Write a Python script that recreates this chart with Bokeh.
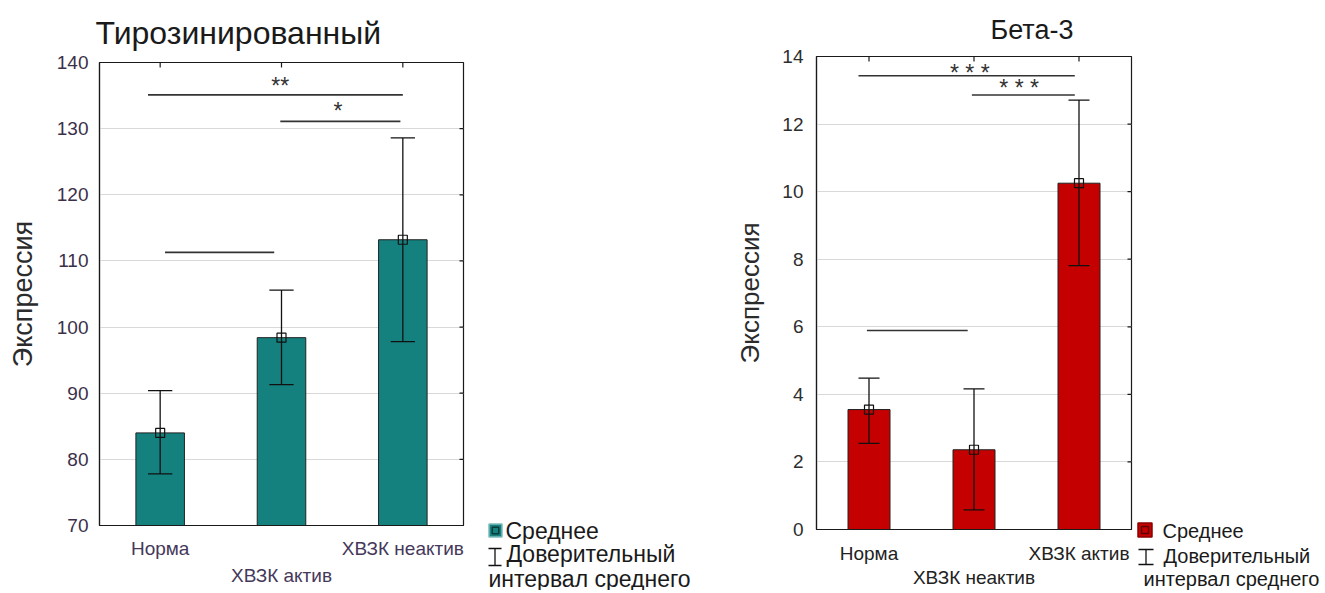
import math
from bokeh.plotting import figure
from bokeh.models import Range1d, FixedTicker, LinearAxis, Title
from bokeh.layouts import row
from bokeh.embed import file_html
from bokeh.resources import INLINE
from bokeh.core.properties import value

FONT = "Liberation Sans"

# ---------------- data: Тирозинированный ----------------
tyr_title = "Тирозинированный"
tyr_categories = ["Норма", "ХВЗК актив", "ХВЗК неактив"]
tyr_means = [84.0, 98.4, 113.2]
tyr_ci_low = [77.8, 91.3, 97.8]
tyr_ci_high = [90.4, 105.6, 128.6]
tyr_yticks = [70, 80, 90, 100, 110, 120, 130, 140]
tyr_sig_x0 = [-0.1, 0.99, 0.04]
tyr_sig_x1 = [2.0, 1.98, 0.94]
tyr_sig_y = [135.1, 131.1, 111.3]
tyr_star_x = [0.99, 1.465]
tyr_star_y = [137.0, 133.2]
tyr_star_text = ["**", "*"]

# ---------------- data: Бета-3 ----------------
beta_title = "Бета-3"
beta_categories = ["Норма", "ХВЗК неактив", "ХВЗК актив"]
beta_means = [3.55, 2.36, 10.25]
beta_ci_low = [2.55, 0.58, 7.81]
beta_ci_high = [4.48, 4.16, 12.71]
beta_yticks = [0, 2, 4, 6, 8, 10, 12, 14]
beta_sig_x0 = [-0.1, 0.98, -0.02]
beta_sig_x1 = [1.96, 1.96, 0.94]
beta_sig_y = [13.43, 12.86, 5.89]
beta_star_x = [0.96, 1.43]
beta_star_y = [13.64, 13.2]
beta_star_text = ["* * *", "* * *"]

y_label = "Экспрессия"
legend_mean = "Среднее"
legend_ci_1 = "Доверительный"
legend_ci_2 = "интервал среднего"

H = 590


def no_align(p):
    try:
        p.frame_align = False
    except Exception:
        pass


def make_chart(title, cats, means, lo, hi, yticks, sx0, sx1, sy, stx, sty, stt,
               color, width, border_left, border_right, border_top,
               border_bottom, label_color, tick_color, title_size,
               title_offset, title_standoff, ylabel_size, ylabel_standoff,
               tick_standoff, cat_standoff1, cat_standoff2, cat_size,
               tick_size):
    xs = list(range(len(cats)))
    x0, x1 = -0.5, len(cats) - 0.5
    p = figure(width=width, height=H, x_range=Range1d(x0, x1),
               y_range=Range1d(yticks[0], yticks[-1]), x_axis_location=None,
               toolbar_location=None, output_backend="svg",
               min_border_left=border_left, min_border_right=border_right,
               min_border_top=border_top, min_border_bottom=border_bottom,
               background_fill_color="white", border_fill_color="white")
    no_align(p)
    p.outline_line_color = "#1a1a1a"
    p.outline_line_width = 1.2
    p.xgrid.visible = False

    # y axis
    ya = p.yaxis[0]
    ya.ticker = FixedTicker(ticks=yticks)
    ya.axis_label = y_label
    ya.axis_label_text_font = FONT
    ya.axis_label_text_font_style = "normal"
    ya.axis_label_text_font_size = f"{ylabel_size}px"
    ya.axis_label_text_color = "#2b2b2b"
    ya.axis_label_standoff = ylabel_standoff
    ya.major_label_text_font = FONT
    ya.major_label_text_font_size = f"{tick_size}px"
    ya.major_label_text_color = tick_color
    ya.major_label_standoff = tick_standoff
    ya.major_tick_in = 0
    ya.major_tick_out = 0
    ya.minor_tick_line_color = None
    ya.axis_line_color = "#1a1a1a"
    ya.axis_line_width = 1.2
    p.ygrid.grid_line_color = "#d9d9d9"
    p.ygrid.grid_line_width = 1

    # inner tick marks on the right and top frame edges (half clipped dashes)
    p.scatter(x=[x1] * len(yticks), y=yticks, marker="dash", size=8,
              line_color="#1a1a1a", line_width=1.2)
    p.scatter(x=xs, y=[yticks[-1]] * len(xs), marker="dash", size=10,
              angle=math.pi / 2, line_color="#1a1a1a", line_width=1.2)

    # bottom axes (staggered category labels)
    even = [i for i in xs if i % 2 == 0]
    odd = [i for i in xs if i % 2 == 1]
    b1 = LinearAxis(ticker=FixedTicker(ticks=even),
                    major_label_overrides={i: cats[i] for i in even},
                    major_tick_in=0, major_tick_out=0,
                    major_label_standoff=cat_standoff1,
                    major_label_text_font=FONT,
                    major_label_text_font_size=f"{cat_size}px",
                    major_label_text_color=label_color,
                    axis_line_color="#1a1a1a", axis_line_width=1.2,
                    major_tick_line_color=None, minor_tick_line_color=None)
    p.add_layout(b1, "below")
    b2 = LinearAxis(ticker=FixedTicker(ticks=odd),
                    major_label_overrides={i: cats[i] for i in odd},
                    major_tick_in=0, major_tick_out=0,
                    major_label_standoff=cat_standoff2,
                    major_label_text_font=FONT,
                    major_label_text_font_size=f"{cat_size}px",
                    major_label_text_color=label_color,
                    axis_line_color=None, major_tick_line_color=None,
                    minor_tick_line_color=None)
    p.add_layout(b2, "below")

    p.title = Title(text=title, align="left", offset=title_offset,
                    vertical_align="middle",
                    text_font=FONT, text_font_style="normal",
                    text_font_size=f"{title_size}px", text_color="#1a1a1a",
                    standoff=title_standoff)

    base = yticks[0]
    p.vbar(x=xs, top=means, bottom=base, width=0.4, fill_color=color,
           line_color="#222222", line_width=1)
    # confidence intervals
    p.segment(x0=xs, y0=lo, x1=xs, y1=hi, line_color="#111111", line_width=1.3)
    cap = 0.1
    p.segment(x0=[x - cap for x in xs], y0=hi, x1=[x + cap for x in xs], y1=hi,
              line_color="#111111", line_width=1.3)
    p.segment(x0=[x - cap for x in xs], y0=lo, x1=[x + cap for x in xs], y1=lo,
              line_color="#111111", line_width=1.3)
    p.scatter(x=xs, y=means, marker="square", size=9, fill_alpha=0,
              line_color="#111111", line_width=1.2)
    # significance lines
    p.segment(x0=sx0, y0=sy, x1=sx1, y1=sy, line_color="#333333", line_width=1.6)
    p.text(x=stx, y=sty, text=stt, text_align="center", text_baseline="middle",
           y_offset=4, text_font=value(FONT), text_font_size="23px",
           text_color="#333333")
    return p


def make_legend(width, sq_x, sq_y, sq_size, fill, ring, inner, txt_size, items):
    lg = figure(width=width, height=H, x_range=Range1d(0, width),
                y_range=Range1d(H, 0), toolbar_location=None, title=None,
                output_backend="svg", min_border=0, min_border_left=0,
                min_border_right=0, min_border_top=0, min_border_bottom=0,
                x_axis_location=None, y_axis_location=None,
                outline_line_color=None)
    no_align(lg)
    lg.xgrid.visible = False
    lg.ygrid.visible = False
    lg.scatter(x=[sq_x], y=[sq_y], marker="square", size=sq_size,
               fill_color=fill, line_color=ring, line_width=1.5)
    lg.scatter(x=[sq_x], y=[sq_y], marker="square", size=sq_size * 0.5,
               fill_alpha=0, line_color=inner, line_width=1.5)
    (t1x, t1y), (ibx, iby0, iby1, ibw), (t2x, t2y), (t3x, t3y) = items
    lg.segment(x0=[ibx, ibx - ibw / 2, ibx - ibw / 2],
               y0=[iby0, iby0, iby1],
               x1=[ibx, ibx + ibw / 2, ibx + ibw / 2],
               y1=[iby1, iby0, iby1], line_color="#111111", line_width=1.3)
    lg.text(x=[t1x, t2x, t3x], y=[t1y, t2y, t3y],
            text=[legend_mean, legend_ci_1, legend_ci_2],
            text_align="left", text_baseline="middle",
            text_font=value(FONT), text_font_size=f"{txt_size}px",
            text_color="#1a1a1a")
    return lg


left = make_chart(tyr_title, tyr_categories, tyr_means, tyr_ci_low, tyr_ci_high,
                  tyr_yticks, tyr_sig_x0, tyr_sig_x1, tyr_sig_y, tyr_star_x,
                  tyr_star_y, tyr_star_text, "#15817f", width=478,
                  border_left=99, border_right=15, border_top=62,
                  border_bottom=H - 525,
                  label_color="#45385a", tick_color="#3b3049", title_size=32,
                  title_offset=-4, title_standoff=22, ylabel_size=27,
                  ylabel_standoff=16, tick_standoff=11, cat_standoff1=12,
                  cat_standoff2=3, cat_size=19, tick_size=19)

# legend figure placed at page x = 478
left_leg = make_legend(234, 17, 530, 13, "#15817f", "#7dbdb9", "#0b3a39", 23,
                       [(27, 530), (16.5, 548, 565, 13), (28, 553), (10, 578)])

right = make_chart(beta_title, beta_categories, beta_means, beta_ci_low,
                   beta_ci_high, beta_yticks, beta_sig_x0, beta_sig_x1,
                   beta_sig_y, beta_star_x, beta_star_y, beta_star_text,
                   "#c40000", width=422, border_left=104, border_right=3,
                   border_top=56, border_bottom=H - 529,
                   label_color="#222222", tick_color="#2e2e2e",
                   title_size=27, title_offset=174, title_standoff=22,
                   ylabel_size=26, ylabel_standoff=14, tick_standoff=13,
                   cat_standoff1=13, cat_standoff2=0, cat_size=19,
                   tick_size=19)

# legend figure placed at page x = 1134
right_leg = make_legend(191, 10.5, 529.5, 14, "#c40000", "#8a0000", "#5a0000",
                        20, [(28, 530), (11.5, 549, 564, 15), (29, 555),
                             (9, 578)])

layout = row(left, left_leg, right, right_leg)

open("out.html", "w").write(file_html(layout, INLINE))
